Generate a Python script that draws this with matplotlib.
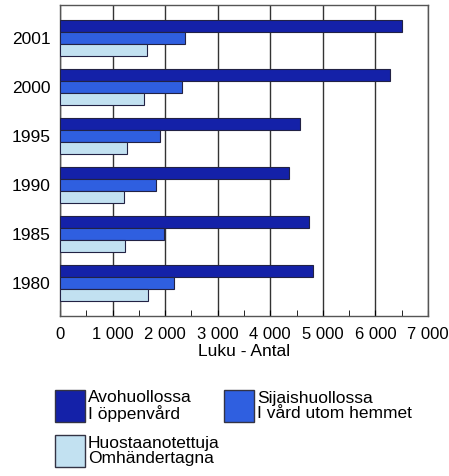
import matplotlib
matplotlib.use("Agg")
import matplotlib.pyplot as plt
import numpy as np
from matplotlib.patches import Rectangle

years = ["1980", "1985", "1990", "1995", "2000", "2001"]
avohuolto = [4810, 4730, 4360, 4570, 6270, 6500]
sijaishuolto = [2170, 1980, 1820, 1910, 2320, 2380]
huostaanotetut = [1670, 1230, 1210, 1280, 1590, 1660]
xticks = [0, 1000, 2000, 3000, 4000, 5000, 6000, 7000]
xticklabels = ["0", "1 000", "2 000", "3 000", "4 000", "5 000", "6 000", "7 000"]
labels = ["Avohuollossa\nI öppenvård", "Sijaishuollossa\nI vård utom hemmet",
          "Huostaanotettuja\nOmhändertagna"]
colors = ["#1421a8", "#2f5fe0", "#c2e1f1"]

plt.rcParams['font.family'] = ['Liberation Sans', 'DejaVu Sans']

W, H = 449, 476
fig = plt.figure(figsize=(W / 100, H / 100), dpi=100)
ax = fig.add_axes([60 / W, (H - 316) / H, (428 - 60) / W, (316 - 5) / H])

y = np.arange(len(years))
h = 0.245
series = [avohuolto, sijaishuolto, huostaanotetut]
offsets = [h, 0, -h]
for vals, off, c in zip(series, offsets, colors):
    ax.barh(y + off, vals, height=h, color=c, edgecolor="#222244", linewidth=0.8, zorder=3)

ax.set_xlim(0, 7000)
ax.set_ylim(-0.68, 5.68)
ax.set_xticks(xticks)
ax.set_xticklabels(xticklabels, fontsize=12)
ax.set_xticks(np.arange(500, 7000, 1000), minor=True)
ax.set_yticks(y)
ax.set_yticklabels(years, fontsize=12.5)
ax.tick_params(axis='y', length=0, pad=7)
ax.tick_params(axis='x', which='both', direction='in', length=4, pad=8)
ax.xaxis.grid(True, color="#333333", linewidth=1.0, zorder=0)
for s in ax.spines.values():
    s.set_color("#555555")
    s.set_linewidth(1.0)
ax.set_xlabel("Luku - Antal", fontsize=12.5, labelpad=1)

# manual legend (pixel positions, top-down)
legend_boxes = [(55, 390), (224, 390), (55, 435)]
for (bx, by), c, lab in zip(legend_boxes, colors, labels):
    fig.add_artist(Rectangle((bx / W, (H - by - 32) / H), 30 / W, 32 / H,
                             transform=fig.transFigure, facecolor=c,
                             edgecolor="#333344", linewidth=1.0))
    fig.text((bx + 33) / W, (H - by - 16) / H, lab, fontsize=12.5,
             va="center", ha="left", linespacing=0.95)

fig.savefig("out.png", dpi=100)
